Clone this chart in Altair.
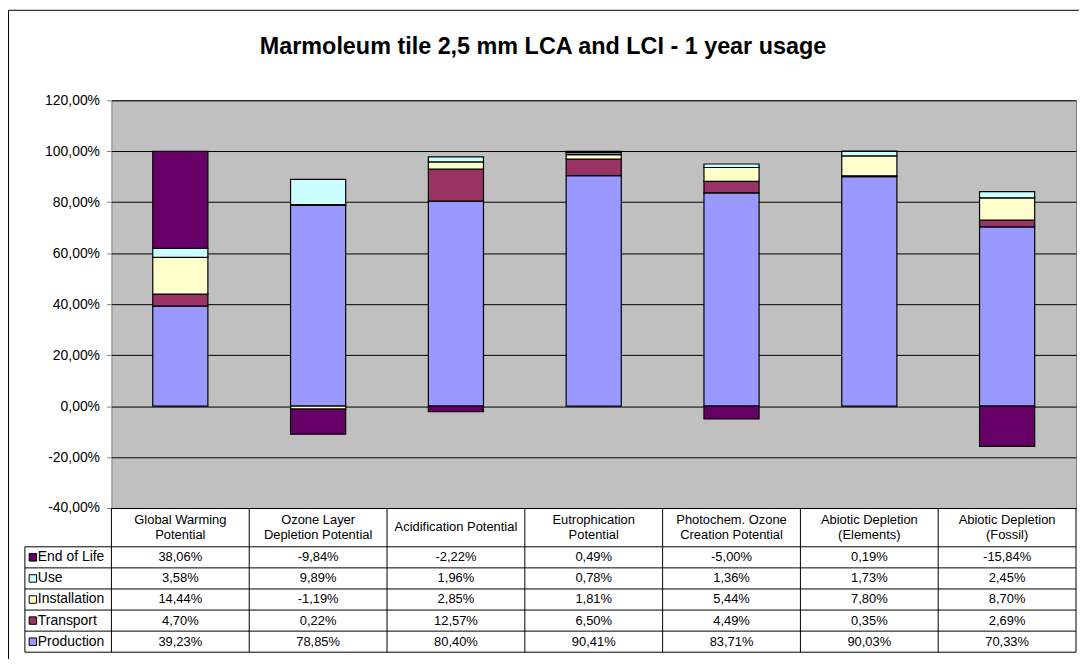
import altair as alt
import pandas as pd

# ---------------- data ----------------
title_text = "Marmoleum tile 2,5 mm LCA and LCI - 1 year usage"
categories = [
    "Global Warming Potential",
    "Ozone Layer Depletion Potential",
    "Acidification Potential",
    "Eutrophication Potential",
    "Photochem. Ozone Creation Potential",
    "Abiotic Depletion (Elements)",
    "Abiotic Depletion (Fossil)",
]
header_labels = [
    "Global Warming\nPotential",
    "Ozone Layer\nDepletion Potential",
    "Acidification Potential",
    "Eutrophication\nPotential",
    "Photochem. Ozone\nCreation Potential",
    "Abiotic Depletion\n(Elements)",
    "Abiotic Depletion\n(Fossil)",
]
series = ["Production", "Transport", "Installation", "Use", "End of Life"]
production = [39.23, 78.85, 80.40, 90.41, 83.71, 90.03, 70.33]
transport = [4.70, 0.22, 12.57, 6.50, 4.49, 0.35, 2.69]
installation = [14.44, -1.19, 2.85, 1.81, 5.44, 7.80, 8.70]
use = [3.58, 9.89, 1.96, 0.78, 1.36, 1.73, 2.45]
end_of_life = [38.06, -9.84, -2.22, 0.49, -5.00, 0.19, -15.84]
colors = ["#9999FF", "#993366", "#FFFFCC", "#CCFFFF", "#660066"]
y_ticks = [-0.4, -0.2, 0.0, 0.2, 0.4, 0.6, 0.8, 1.0, 1.2]

values_by_series = [production, transport, installation, use, end_of_life]
rows_top_to_bottom = list(reversed(series))

records = []
for j, (s, vals) in enumerate(zip(series, values_by_series)):
    for c, v in zip(categories, vals):
        records.append({
            "category": c,
            "series": s,
            "order": j,
            "value": v / 100.0,
            "label": f"{v:.2f}".replace(".", ",") + "%",
        })
df = pd.DataFrame(records)
header_df = pd.DataFrame({"category": categories, "header": header_labels})
series_df = pd.DataFrame({"series": series})

# ---------------- layout (pixels, relative to plot origin) ----------------
W, H = 970, 410
HEADER_H = 39
ROW_H = 21.2
TABLE_TOP = H + HEADER_H
TABLE_BOTTOM = TABLE_TOP + ROW_H * 5
LEGEND_LEFT = -87
LINE_H = 15
FONT = "Arial, Liberation Sans, sans-serif"
step = W / len(categories)
FRAME_X = -103.5
FRAME_Y = -90.5

x_scale = alt.Scale(type="band", domain=categories, paddingInner=0.6, paddingOuter=0.3)
row_scale = alt.Scale(type="band", domain=rows_top_to_bottom,
                      range=[TABLE_TOP, TABLE_BOTTOM], paddingInner=0, paddingOuter=0)
color_scale = alt.Scale(domain=series, range=colors)

# grid lines of the table (layout decoration)
segs = []
for i in range(6):
    y = TABLE_TOP + i * ROW_H
    segs.append({"x0": LEGEND_LEFT, "x1": W, "y0": y, "y1": y})
segs.append({"x0": LEGEND_LEFT, "x1": LEGEND_LEFT, "y0": TABLE_TOP, "y1": TABLE_BOTTOM})
for k in range(len(categories) + 1):
    x = k * step
    segs.append({"x0": x, "x1": x, "y0": H, "y1": TABLE_BOTTOM})
# outer chart frame (left and top edges visible)
segs.append({"x0": FRAME_X, "x1": FRAME_X, "y0": FRAME_Y, "y1": 700})
segs.append({"x0": FRAME_X, "x1": 1100, "y0": FRAME_Y, "y1": FRAME_Y})
seg_df = pd.DataFrame(segs)

title = alt.Chart(pd.DataFrame({"t": [title_text]})).mark_text(
    font=FONT, fontSize=23.5, fontWeight="bold", color="black", baseline="middle", align="center"
).encode(text="t:N", x=alt.value(434), y=alt.value(-54))

bars = alt.Chart(df).mark_bar(stroke="black", strokeWidth=1.2).encode(
    x=alt.X("category:N", scale=x_scale, axis=None, sort=categories),
    y=alt.Y(
        "value:Q",
        stack="zero",
        scale=alt.Scale(domain=[-0.4, 1.2], nice=False, zero=False),
        axis=alt.Axis(
            values=y_ticks,
            labelExpr="replace(replace(format(datum.value, '.2%'), '.', ','), '\u2212', '-')",
            grid=True,
            gridColor="#000000",
            gridWidth=1,
            domain=False,
            ticks=True,
            tickColor="#808080",
            tickSize=5,
            labelPadding=7,
            labelFont=FONT,
            labelFontSize=14,
            labelColor="black",
            title=None,
        ),
    ),
    color=alt.Color("series:N", scale=color_scale, legend=None),
    order=alt.Order("order:Q", sort="ascending"),
)

lines = alt.Chart(seg_df).mark_rule(color="#000000", strokeWidth=1).encode(
    x=alt.X("x0:Q", scale=None, axis=None),
    x2="x1:Q",
    y=alt.Y("y0:Q", scale=None, axis=None),
    y2="y1:Q",
)

header_base = alt.Chart(header_df).transform_calculate(
    multi="indexof(datum.header, '\\n') >= 0"
)
headers_multi = header_base.transform_filter("datum.multi").mark_text(
    font=FONT, fontSize=13, lineBreak="\n", lineHeight=LINE_H, baseline="middle", align="center", color="black"
).encode(
    x=alt.X("category:N", scale=x_scale, axis=None, sort=categories),
    y=alt.value(H + HEADER_H / 2 - LINE_H / 2),
    text="header:N",
)
headers_single = header_base.transform_filter("!datum.multi").mark_text(
    font=FONT, fontSize=13, baseline="middle", align="center", color="black"
).encode(
    x=alt.X("category:N", scale=x_scale, axis=None, sort=categories),
    y=alt.value(H + HEADER_H / 2),
    text="header:N",
)

cells = alt.Chart(df).mark_text(
    font=FONT, fontSize=13, baseline="middle", align="center", color="black"
).encode(
    x=alt.X("category:N", scale=x_scale, axis=None, sort=categories),
    y=alt.Y("series:N", scale=row_scale, axis=None),
    text="label:N",
)

swatches = alt.Chart(series_df).mark_square(
    size=56, stroke="black", strokeWidth=1, opacity=1
).encode(
    x=alt.value(LEGEND_LEFT + 8),
    y=alt.Y("series:N", scale=row_scale, axis=None),
    fill=alt.Fill("series:N", scale=color_scale, legend=None),
)

row_labels = alt.Chart(series_df).mark_text(
    font=FONT, fontSize=14, baseline="middle", align="left", color="black"
).encode(
    x=alt.value(LEGEND_LEFT + 13),
    y=alt.Y("series:N", scale=row_scale, axis=None),
    text="series:N",
)

chart = alt.layer(
    title, bars, lines, headers_multi, headers_single, cells, swatches, row_labels
).resolve_scale(
    x="independent", y="independent", color="independent", fill="independent"
).properties(
    width=W,
    height=H,
    autosize=alt.AutoSizeParams(type="none"),
    padding={"left": 104, "top": 91, "right": 3, "bottom": 150},
    background="white",
).configure_view(
    fill="#C0C0C0", stroke="#808080", strokeWidth=1
)

chart.save("out.html", embed_options={"renderer": "svg", "actions": False})
